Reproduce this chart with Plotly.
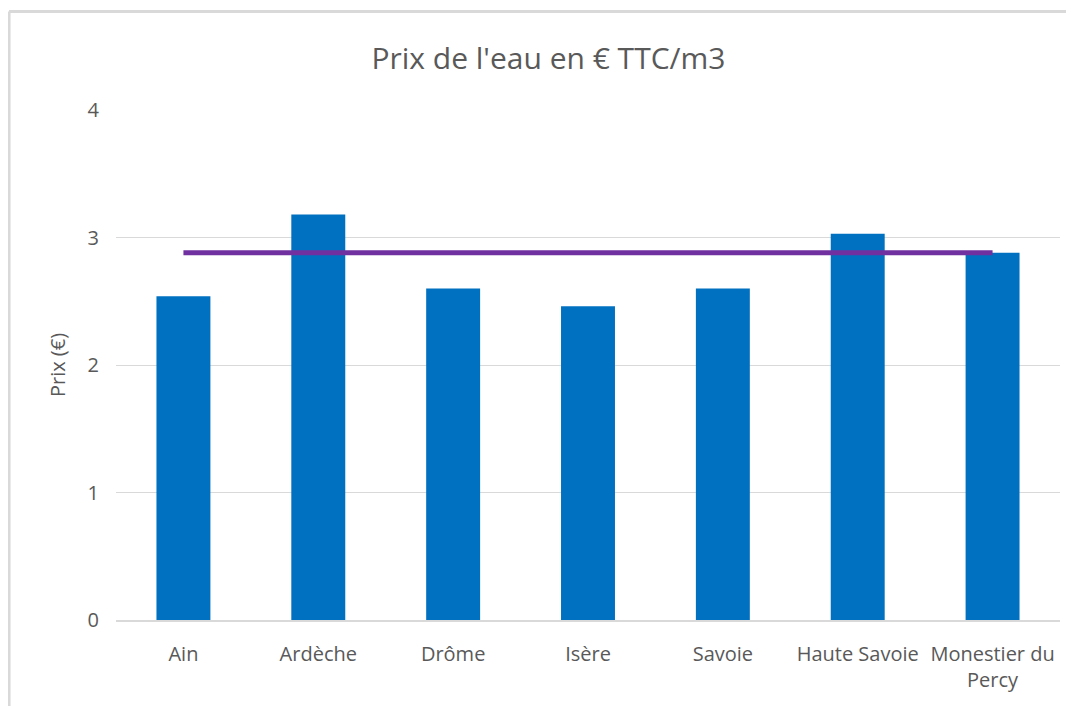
import plotly.graph_objects as go

regions = ["Ain", "Ardèche", "Drôme", "Isère", "Savoie", "Haute Savoie", "Monestier du<br>Percy"]
prix = [2.54, 3.18, 2.60, 2.46, 2.60, 3.03, 2.88]
reference = [2.88, 2.88, 2.88, 2.88, 2.88, 2.88, 2.88]
yticks = [0, 1, 2, 3, 4]

grey = "#595959"
font = "Open Sans"

fig = go.Figure()
fig.add_trace(go.Bar(x=regions, y=prix, marker_color="#0070C0", marker_line_width=0, name="Prix"))
fig.add_trace(go.Scatter(x=regions, y=reference, mode="lines", line=dict(color="#7030A0", width=5), name="Référence"))

# the page adds an 8px body margin, so the figure is a bit smaller than the window
fig.update_layout(
    width=1066, height=698,
    margin=dict(l=108, r=14, t=102, b=86),
    paper_bgcolor="white", plot_bgcolor="white",
    showlegend=False,
    bargap=0.6,
    title=dict(text="Prix de l'eau en € TTC/m3", x=0.507, xanchor="center", y=0.928, yanchor="middle",
               font=dict(family=font, size=30, color=grey)),
    font=dict(family=font, color=grey, size=20),
)
fig.update_xaxes(showgrid=False, showline=True, linecolor="#d9d9d9", linewidth=2,
                 tickangle=0, tickfont=dict(size=20, color=grey), ticks="", ticklabelstandoff=15)
fig.update_yaxes(range=[0, 4], tickvals=yticks, showgrid=True, gridcolor="#d9d9d9", gridwidth=1,
                 zeroline=False, showline=False, tickfont=dict(size=20, color=grey),
                 ticklabelstandoff=16,
                 title=dict(text="Prix (€)", font=dict(size=20, color=grey), standoff=16))

# outer frame (top and left edges of the chart area)
fig.add_shape(type="line", xref="paper", yref="paper", x0=-0.1133, x1=1.03, y0=1.193, y1=1.193,
              line=dict(color="#d9d9d9", width=3))
fig.add_shape(type="line", xref="paper", yref="paper", x0=-0.1133, x1=-0.1133, y0=1.193, y1=-0.17,
              line=dict(color="#d9d9d9", width=3))

fig.write_html("out.html")
